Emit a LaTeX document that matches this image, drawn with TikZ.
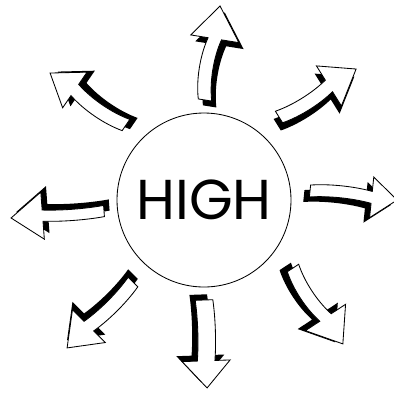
\documentclass[tikz,border=0pt]{standalone}
\usepackage{fontspec}
\newfontfamily\highfont{Poppins}

\begin{document}
\begin{tikzpicture}[line width=0.6pt, line join=miter]
    % Frame of the scan
    \useasboundingbox (-5.1,-4.8) rectangle (4.75,5);
    \clip (-5.1,-4.8) rectangle (4.75,5);

    % The circle in the middle
    \node[circle, draw, minimum size=4.35cm, inner sep=0pt,
          font=\highfont\fontsize{40}{40}\selectfont] (high) at (0,0) {HIGH};

    % Arrows: tail x/y, angle, length, head length, head half width, bow, shaft half width
    \foreach \tx/\ty/\ang/\len/\hl/\hw/\bow/\sw in {
        0.025/2.5/80.9/2.38/0.83/0.61/0.13/0.17,
        1.875/2.075/31.9/2.27/0.8/0.59/-0.1/0.17,
        2.65/0.225/-5.9/2.19/0.64/0.51/0.08/0.15,
        2.225/-1.7/-56.7/2.27/0.79/0.6/-0.12/0.17,
        0/-2.5/-88/2.2/0.68/0.6/0.05/0.22,
        -1.775/-2.05/-135/2.33/0.77/0.58/0.08/0.17,
        -2.5/-0.275/184.3/2.33/0.79/0.59/0.05/0.14,
        -1.95/1.875/145.6/2.30/0.75/0.54/0.12/0.17}
    {
        \pgfmathsetmacro\bl{\len-\hl}
        \begin{scope}[shift={(\tx,\ty)}, rotate=\ang]
            % shadow
            \fill[shift={(-0.14,-0.14)}] (0,-\sw) .. controls (0.3*\bl,\bow-\sw) and (0.7*\bl,\bow-\sw) .. (\bl,-\sw)
                -- (\bl,-\hw) -- (\len,0) -- (\bl,\hw) -- (\bl,\sw)
                .. controls (0.7*\bl,\bow+\sw) and (0.3*\bl,\bow+\sw) .. (0,\sw) -- cycle;
            % face
            \draw[fill=white] (0,-\sw) .. controls (0.3*\bl,\bow-\sw) and (0.7*\bl,\bow-\sw) .. (\bl,-\sw)
                -- (\bl,-\hw) -- (\len,0) -- (\bl,\hw) -- (\bl,\sw)
                .. controls (0.7*\bl,\bow+\sw) and (0.3*\bl,\bow+\sw) .. (0,\sw) -- cycle;
        \end{scope}
    }
\end{tikzpicture}
\end{document}
